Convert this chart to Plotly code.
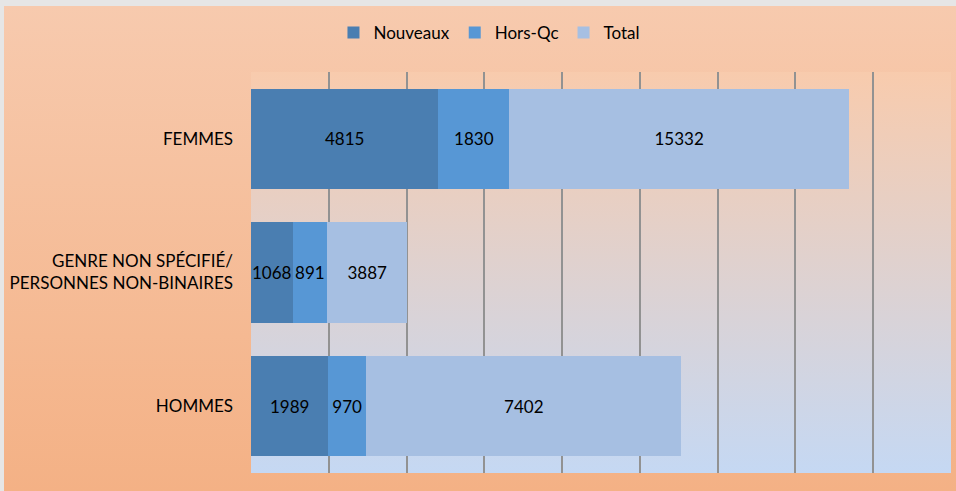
import base64
import plotly.graph_objects as go

# ---- data ----
categories = ["HOMMES", "GENRE NON SPÉCIFIÉ/<br>PERSONNES NON-BINAIRES", "FEMMES"]
nouveaux = [1989, 1068, 4815]
hors_qc = [970, 891, 1830]
total_len = [8110, 2060, 8730]        # drawn length of the "Total" segment
total_labels = [7402, 3887, 15332]    # label printed in the "Total" segment
series_names = ["Nouveaux", "Hors-Qc", "Total"]
x_range = [0, 18000]
x_step = 2000

# ---- styling ----
W_FIG, H_FIG = 956, 491
L, R, T, B = 251, 5, 72, 18
PW, PH = W_FIG - L - R, H_FIG - T - B
FONT = "Lato, Carlito, 'Open Sans', sans-serif"
col_nouv = "#4a7eb1"
col_hors = "#5797d5"
col_tot = "#a6bfe2"
TXT = "#000000"


def grad_uri(c1, c2):
    svg = (
        '<svg xmlns="http://www.w3.org/2000/svg" width="10" height="100" '
        'preserveAspectRatio="none"><defs><linearGradient id="g" x1="0" y1="0" '
        f'x2="0" y2="1"><stop offset="0" stop-color="{c1}"/><stop offset="1" '
        f'stop-color="{c2}"/></linearGradient></defs><rect width="10" height="100" '
        'fill="url(#g)"/></svg>'
    )
    return "data:image/svg+xml;base64," + base64.b64encode(svg.encode()).decode()


fig = go.Figure()
for name, vals, labels, col in [
    (series_names[0], nouveaux, nouveaux, col_nouv),
    (series_names[1], hors_qc, hors_qc, col_hors),
    (series_names[2], total_len, total_labels, col_tot),
]:
    fig.add_trace(go.Bar(
        y=categories, x=vals, name=name, orientation="h",
        marker=dict(color=col, line=dict(width=0)),
        text=[str(v) for v in labels], textposition="inside", textangle=0,
        insidetextanchor="middle", constraintext="none",
        textfont=dict(color=TXT, size=17, family=FONT),
        hoverinfo="skip",
    ))

images = [
    # whole chart background (orange gradient)
    dict(source=grad_uri("#f7caae", "#f4b185"), xref="paper", yref="paper",
         x=-(L - 4) / PW, y=1 + (T - 6) / PH, sizex=(W_FIG - 4) / PW,
         sizey=(H_FIG - 6) / PH, xanchor="left", yanchor="top",
         sizing="stretch", layer="below"),
    # plot area background (peach -> light blue)
    dict(source=grad_uri("#f8cbad", "#c5d8f3"), xref="paper", yref="paper",
         x=0, y=1, sizex=1, sizey=1, xanchor="left", yanchor="top",
         sizing="stretch", layer="below"),
]

fig.update_layout(
    width=W_FIG, height=H_FIG,
    margin=dict(l=L, r=R, t=T, b=B, pad=0),
    barmode="stack", bargap=0.25,
    paper_bgcolor="#e6e6e6", plot_bgcolor="rgba(0,0,0,0)",
    images=images,
    font=dict(family=FONT, size=17, color=TXT),
    uniformtext=dict(minsize=17, mode="show"),
    legend=dict(orientation="h", xref="container", yref="container",
                x=0.512, y=1 - 33 / H_FIG, xanchor="center", yanchor="middle",
                bgcolor="rgba(0,0,0,0)", font=dict(size=17, family=FONT, color=TXT),
                traceorder="normal"),
    showlegend=True,
)
fig.update_xaxes(range=x_range, dtick=x_step, tick0=0, showticklabels=False,
                 showgrid=True, gridcolor="#929292", gridwidth=1.5,
                 zeroline=False, showline=False, ticks="")
fig.update_yaxes(showgrid=False, zeroline=False, showline=False, ticks="",
                 ticklabelstandoff=17, tickfont=dict(size=17, family=FONT, color=TXT))

fig.write_html(
    "out.html",
    config={"displayModeBar": False},
    post_script="document.body.style.margin='0';document.body.style.overflow='hidden';",
)
